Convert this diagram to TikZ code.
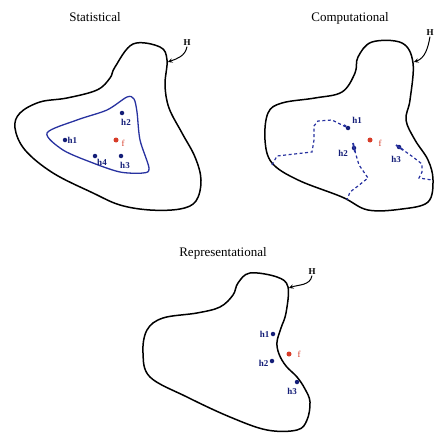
\documentclass[tikz,border=0pt]{standalone}
\usepackage{fontspec}
\setmainfont{Liberation Serif}
\begin{document}
\begin{tikzpicture}[x=1pt,y=-1pt,
  outer/.style={draw=black,line width=1.5pt},
  inner/.style={draw=blueline,line width=1.3pt},
  dashline/.style={draw=blueline,line width=1.2pt,dash pattern=on 3pt off 2.5pt},
  hdot/.style={circle,fill=dotblue,inner sep=0pt,minimum size=4.5pt},
  fdot/.style={circle,fill=fred,inner sep=0pt,minimum size=5pt},
  hlab/.style={font=\fontsize{9}{10}\selectfont\bfseries,text=dotblue,inner sep=0.5pt},
  flab/.style={font=\fontsize{9}{10}\selectfont,text=fred,inner sep=0.5pt},
  title/.style={font=\fontsize{13}{15}\selectfont},
  Hlab/.style={font=\fontsize{9}{10}\selectfont\bfseries,inner sep=0.5pt},
  Harrow/.style={->,>=stealth,line width=1pt}
]
\definecolor{blueline}{RGB}{40,50,160}
\definecolor{dotblue}{RGB}{20,30,120}
\definecolor{fred}{RGB}{215,60,40}
\useasboundingbox (0,0) rectangle (435,441);

% ---------- Statistical ----------
\node[title] (t1) at (95,17) {Statistical};
\draw[outer] plot[smooth cycle,tension=0.6] coordinates {(115,67) (133,44) (160,47) (167,60) (165,85) (169,108) (182,133) (195,157) (201,180) (196,201) (180,209) (150,210) (120,205) (93,193) (53,173) (25,150) (15,128) (20,113) (40,102) (67,98) (97,90) (110,78)};
\draw[inner] plot[smooth cycle,tension=0.5] coordinates {(47,133) (77,120) (107,110) (127,97) (134,99) (137,112) (140,140) (149,168) (143,173) (120,172) (93,163) (63,150)};
\node[Hlab] (H1) at (187,43) {H};
\coordinate (H1e) at (168,62);
\draw[Harrow] (H1.south) to[out=-100,in=20] (H1e);
\node[hdot] (s1) at (65,140) {};
\node[hlab,anchor=west] (s1l) at (67,140) {h1};
\node[hdot] (s2) at (122,113) {};
\node[hlab] (s2l) at (126,122) {h2};
\node[fdot] (sf) at (116,140) {};
\node[flab] (sfl) at (123,143) {f};
\node[hdot] (s4) at (95,156) {};
\node[hlab] (s4l) at (102,162) {h4};
\node[hdot] (s3) at (121,156) {};
\node[hlab] (s3l) at (125,165) {h3};

% ---------- Computational ----------
\node[title] (t2) at (350,18) {Computational};
\draw[outer] plot[smooth cycle,tension=0.6] coordinates {(358,57) (372,42) (402,43) (413,63) (410,100) (406,120) (415,140) (428,160) (433,180) (428,202) (402,209) (368,210) (342,197) (298,180) (272,163) (265,140) (268,113) (282,103) (315,98) (342,92) (355,73)};
\node[Hlab] (H2) at (430,33) {H};
\coordinate (H2e) at (414,62);
\draw[Harrow] (H2.south) to[out=-100,in=20] (H2e);
\node[hdot] (c1) at (348,128) {};
\node[hlab] (c1l) at (357,120) {h1};
\node[fdot] (cf) at (370,140) {};
\node[flab] (cfl) at (380,143) {f};
\node[hdot] (c2) at (354,148) {};
\node[hlab] (c2l) at (343,153) {h2};
\node[hdot] (c3) at (399,147) {};
\node[hlab] (c3l) at (396,159) {h3};
\coordinate (ca0) at (272,165);
\coordinate (cb0) at (347,200);
\coordinate (cc0) at (432,180);
\draw[dashline] (ca0) -- (277,156) -- (312,152) -- (314,140) -- (314,126) -- (318,121) -- (332,120) -- (c1);
\draw[dashline] (c2) -- (359,165) -- (368,178) -- (358,186) -- (350,192) -- (cb0);
\draw[dashline] (c3) -- (413,157) -- (422,164) -- (422,172) -- (419,178) -- (cc0);
\draw[blueline,line width=1.8pt] (344,125) -- (c1);
\draw[blueline,line width=1.8pt] (353,143) -- (355,152);
\draw[blueline,line width=1.8pt] (396,145) -- (403,150);

% ---------- Representational ----------
\node[title] (t3) at (223,253) {Representational};
\draw[outer] plot[smooth cycle,tension=0.6] coordinates {(238,283) (250,273) (277,277) (288,287) (286,313) (281,328) (277,342) (279,354) (286,366) (297,377) (305,389) (310,402) (307,420) (297,430) (267,430) (230,417) (187,397) (150,377) (143,353) (147,330) (163,318) (197,313) (220,307) (233,295)};
\node[Hlab] (H3) at (312,272) {H};
\coordinate (H3e) at (289,288);
\draw[Harrow] (H3.south) to[out=-100,in=20] (H3e);
\node[hdot] (r1) at (273,334) {};
\node[hlab,anchor=east] (r1l) at (270,334) {h1};
\node[fdot] (rf) at (289,354) {};
\node[flab] (rfl) at (299,354) {f};
\node[hdot] (r2) at (272,361) {};
\node[hlab,anchor=east] (r2l) at (269,363) {h2};
\node[hdot] (r3) at (297,382) {};
\node[hlab] (r3l) at (292,391) {h3};
\end{tikzpicture}
\end{document}
